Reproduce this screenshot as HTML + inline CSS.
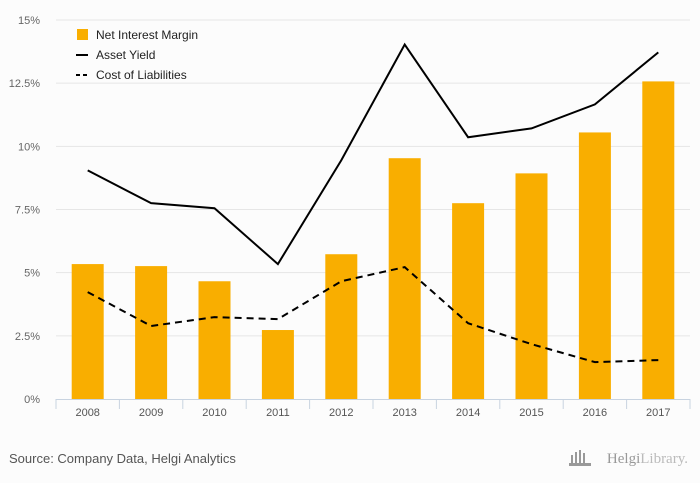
<!DOCTYPE html>
<html><head><meta charset="utf-8"><style>
body{margin:0;background:#fff;}
svg{display:block;font-family:"Liberation Sans",sans-serif;}
</style></head><body>
<svg id="c" width="700" height="483" xmlns="http://www.w3.org/2000/svg">
<rect width="700" height="483" fill="#fcfcfc"/>
<g id="grid"></g><g id="bars"></g><g id="lines"></g><g id="axes"></g>
<g>
<rect x="77" y="29" width="11" height="11" fill="#f9ae00"/>
<text x="96" y="39" font-size="12" fill="#222">Net Interest Margin</text>
<line x1="76" y1="55" x2="88" y2="55" stroke="#000" stroke-width="2"/>
<text x="96" y="59" font-size="12" fill="#222">Asset Yield</text>
<line x1="76" y1="75" x2="88" y2="75" stroke="#000" stroke-width="2" stroke-dasharray="4,3"/>
<text x="96" y="79" font-size="12" fill="#222">Cost of Liabilities</text>
</g>
<text x="9" y="463" font-size="13" fill="#555">Source: Company Data, Helgi Analytics</text>
<text x="688" y="463" font-size="15" fill="#999" text-anchor="end" font-family="Liberation Serif,serif">Helgi<tspan fill="#bbb">Library.</tspan></text>
<g fill="#999"><rect x="571" y="455" width="2" height="10"/><rect x="575" y="452" width="2" height="13"/><rect x="579" y="450" width="2" height="15"/><rect x="583" y="453" width="2" height="12"/><rect x="569" y="463" width="22" height="3"/></g>
</svg>
<script>
const categories=["2008","2009","2010","2011","2012","2013","2014","2015","2016","2017"];
const nim=[5.34,5.26,4.66,2.73,5.73,9.53,7.75,8.93,10.55,12.57];
const assetYield=[9.05,7.75,7.55,5.34,9.45,14.03,10.36,10.71,11.66,13.72];
const costLiab=[4.23,2.89,3.24,3.16,4.66,5.22,3.0,2.17,1.46,1.54];
const yTicks=[0,2.5,5,7.5,10,12.5,15];
const yLabels=["0%","2.5%","5%","7.5%","10%","12.5%","15%"];
const NS="http://www.w3.org/2000/svg";
const x0=56,x1=690,y0=399,yTop=20;
const step=(x1-x0)/categories.length;
const xc=i=>x0+step*(i+0.5);
const y=v=>y0-(v/15)*(y0-yTop);
function mk(t,a,p){const e=document.createElementNS(NS,t);for(const k in a)e.setAttribute(k,a[k]);document.getElementById(p).appendChild(e);return e;}
yTicks.forEach((v,i)=>{
 if(v>0){const g=mk('line',{x1:x0,x2:x1,y1:y(v),y2:y(v),stroke:'#e6e6e6','stroke-width':1},'grid');
 
 }
 const t=mk('text',{x:40,y:y(v)+4,'font-size':11,fill:'#666','text-anchor':'end'},'axes');t.textContent=yLabels[i];
 
 
});
const bw=32;
nim.forEach((v,i)=>{const r=mk('rect',{x:xc(i)-bw/2,y:y(v),width:bw,height:y0-y(v),fill:'#f9ae00'},'bars');
 
 });
function line(d,dash,name){const p=mk('polyline',{points:d.map((v,i)=>xc(i)+','+y(v)).join(' '),fill:'none',stroke:'#000','stroke-width':2,'stroke-dasharray':dash},'lines');
 
 }
line(assetYield,'none','asset-yield-line');
line(costLiab,'7,5','cost-of-liabilities-line');
const ax=mk('line',{x1:x0,x2:x1,y1:y0+0.5,y2:y0+0.5,stroke:'#c8d3e0'},'axes');


for(let i=0;i<=categories.length;i++){const t=mk('line',{x1:x0+step*i,x2:x0+step*i,y1:y0,y2:y0+10,stroke:'#c8d3e0'},'axes');
 
 }
categories.forEach((c,i)=>{const t=mk('text',{x:xc(i),y:416,'font-size':11,fill:'#555','text-anchor':'middle'},'axes');t.textContent=c;
 
 });
</script>
</body></html>
